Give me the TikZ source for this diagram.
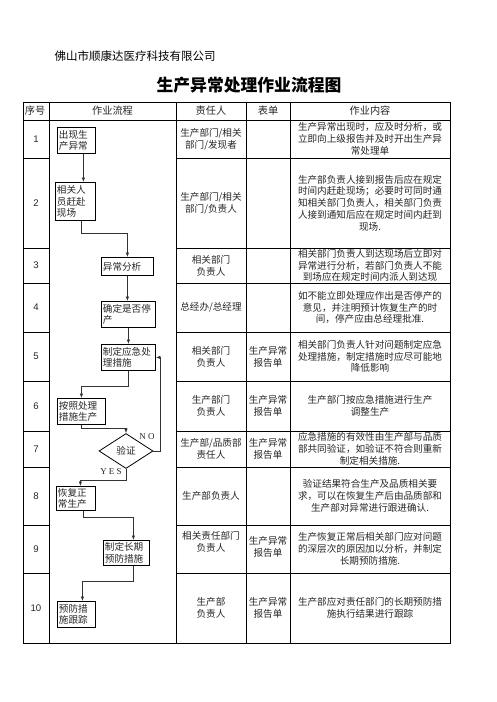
\documentclass[tikz,border=0pt]{standalone}
\usepackage{fontspec}
\setmainfont{Liberation Sans}
\newfontfamily\cjk{Noto Sans CJK SC}
\newfontfamily\latinserif{Liberation Serif}
\usetikzlibrary{arrows.meta,shapes.geometric}

\begin{document}
\begin{tikzpicture}[x=1pt, y=-1pt, line width=0.8pt, cell/.style={align=center, inner sep=0pt, text=black!85, font=\cjk\fontsize{9.6}{11.8}\selectfont}, head/.style={cell, font=\cjk\fontsize{10.2}{12}\selectfont}, num/.style={inner sep=0pt, text=black!85, font=\fontsize{9.6}{11}\selectfont}, flowbox/.style={draw, anchor=north west, inner sep=1.5pt, align=left, text=black!85, font=\cjk\fontsize{9.6}{11.5}\selectfont}, decision/.style={draw, diamond, inner sep=0pt, minimum width=54, minimum height=35, text=black!85, font=\cjk\fontsize{9.6}{11}\selectfont}, arr/.style={-{Latex[length=4.5pt,width=3.5pt]}, line width=0.7pt, black!80}, yn/.style={inner sep=0pt, text=black!85, font=\latinserif\fontsize{9}{10}\selectfont}]
\useasboundingbox (0,0) rectangle (496,702);
% titles
\node[anchor=west, font=\cjk\fontsize{11.5}{13}\selectfont] (firm) at (51,56) {佛山市顺康达医疗科技有限公司};
\node[font=\cjk\bfseries\fontsize{16.8}{18}\selectfont] (title) at (249,85) {生产异常处理作业流程图};
% table grid
\draw (23,102) rectangle (450,643);
\draw (23,120) -- (450,120);
\foreach \x in {49,176,246,290} \draw (\x,102) -- (\x,643);
\foreach \y in {158,248,283,332,381,431,467,525,573} {\draw (23,\y) -- (49,\y); \draw (176,\y) -- (450,\y);}
% header
\node[head] (h1) at (35,111) {序号};
\node[head] (h2) at (112.5,111) {作业流程};
\node[head] (h3) at (211,111) {责任人};
\node[head] (h4) at (268,111) {表单};
\node[head] (h5) at (370,111) {作业内容};
% step numbers
\node[num] (n1) at (36,139) {1};
\node[num] (n2) at (36,203) {2};
\node[num] (n3) at (36,265.5) {3};
\node[num] (n4) at (36,307.5) {4};
\node[num] (n5) at (36,356.5) {5};
\node[num] (n6) at (36,406) {6};
\node[num] (n7) at (36,449) {7};
\node[num] (n8) at (36,496) {8};
\node[num] (n9) at (36,549) {9};
\node[num] (n10) at (36,608) {10};
% flow
\node[flowbox, text width=35, minimum height=26] (b1) at (57,127) {出现生\\产异常};
\node[flowbox, text width=37, minimum height=38] (b2) at (55,182) {相关人\\员赶赴\\现场};
\node[flowbox, text width=49, minimum height=18] (b3) at (101,257) {异常分析};
\node[flowbox, text width=51, minimum height=26] (b4) at (101,301) {确定是否停\\产};
\node[flowbox, text width=51, minimum height=26] (b5) at (101,344) {制定应急处\\理措施};
\node[flowbox, text width=45, minimum height=26] (b6) at (57,398) {按照处理\\措施生产};
\node[decision] (chk) at (126,451) {验证};
\node[flowbox, text width=36, minimum height=24] (b8) at (56,486) {恢复正\\常生产};
\node[flowbox, text width=43, minimum height=25] (b9) at (103,540) {制定长期\\预防措施};
\node[flowbox, text width=35, minimum height=26] (b10) at (57,601) {预防措\\施跟踪};
\node[yn] (no) at (147,437) {N O};
\node[yn] (yes) at (111,472) {Y E S};
\draw[arr] ([xshift=7]b1.south) -- ([xshift=7]b1.south |- b2.north);
\draw[arr] ([xshift=6]b2.south) -- ++(0,13) -| (b3.north);
\draw[arr] (b3.south) -- (b3.south |- b4.north);
\draw[arr] (b4.south) -- (b4.south |- b5.north);
\draw[arr] (b5.south) -- ++(0,16) -| (b6.north);
\draw[arr] (b6.south) -- ++(0,4) -| (chk.north);
\draw[arr] (chk.east) -- ++(7,0) |- (b5.east);
\draw[arr] (chk.south) -- ++(0,11) -| ([xshift=4.5]b8.north);
\draw[arr] ([xshift=7.5]b8.south) -- ++(0,7) -| ([xshift=7]b9.north);
\draw[arr] ([xshift=7]b9.south) -- ++(0,16) -| ([xshift=6]b10.north);
% responsible
\node[cell] (p1) at (211,139) {生产部门/相关\\部门/发现者};
\node[cell] (p2) at (211,203) {生产部门/相关\\部门/负责人};
\node[cell] (p3) at (211,266) {相关部门\\负责人};
\node[cell] (p4) at (211,307.5) {总经办/总经理};
\node[cell] (p5) at (211,356.5) {相关部门\\负责人};
\node[cell] (p6) at (211,406) {生产部门\\负责人};
\node[cell] (p7) at (211,449) {生产部/品质部\\责任人};
\node[cell] (p8) at (211,496) {生产部负责人};
\node[cell] (p9) at (211,542) {相关责任部门\\负责人};
\node[cell] (p10) at (211,608) {生产部\\负责人};
% forms
\node[cell] (f5) at (268,356.5) {生产异常\\报告单};
\node[cell] (f6) at (268,406) {生产异常\\报告单};
\node[cell] (f7) at (268,449) {生产异常\\报告单};
\node[cell] (f9) at (268,547) {生产异常\\报告单};
\node[cell] (f10) at (268,608) {生产异常\\报告单};
% content
\node[cell] (c1) at (370,139) {生产异常出现时，应及时分析，或\\立即向上级报告并及时开出生产异\\常处理单};
\node[cell] (c2) at (370,203) {生产部负责人接到报告后应在规定\\时间内赶赴现场；必要时可同时通\\知相关部门负责人，相关部门负责\\人接到通知后应在规定时间内赶到\\现场.};
\node[cell] (c3) at (370,265.5) {相关部门负责人到达现场后立即对\\异常进行分析，若部门负责人不能\\到场应在规定时间内派人到达现};
\node[cell] (c4) at (370,307.5) {如不能立即处理应作出是否停产的\\意见，并注明预计恢复生产的时\\间，停产应由总经理批准.};
\node[cell] (c5) at (370,356.5) {相关部门负责人针对问题制定应急\\处理措施，制定措施时应尽可能地\\降低影响};
\node[cell] (c6) at (370,406) {生产部门按应急措施进行生产\\调整生产};
\node[cell] (c7) at (370,449) {应急措施的有效性由生产部与品质\\部共同验证，如验证不符合则重新\\制定相关措施.};
\node[cell] (c8) at (370,496) {验证结果符合生产及品质相关要\\求，可以在恢复生产后由品质部和\\生产部对异常进行跟进确认.};
\node[cell] (c9) at (370,549) {生产恢复正常后相关部门应对问题\\的深层次的原因加以分析，并制定\\长期预防措施.};
\node[cell] (c10) at (370,608) {生产部应对责任部门的长期预防措\\施执行结果进行跟踪};
\end{tikzpicture}
\end{document}
